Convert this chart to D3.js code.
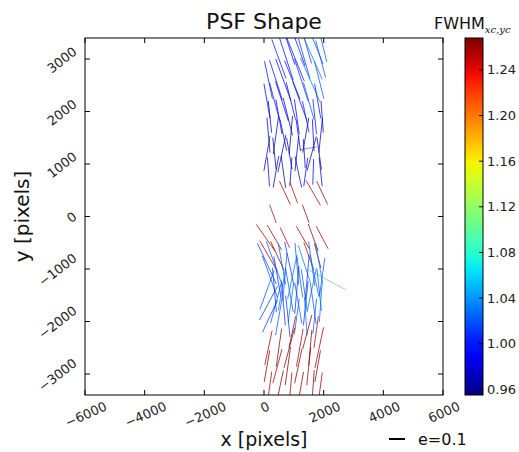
<!DOCTYPE html>
<html><head><meta charset="utf-8">
<script src="https://cdn.jsdelivr.net/npm/d3@7"></script>
<style>body{margin:0;background:#fff;} svg{display:block;font-family:"DejaVu Sans",sans-serif;}</style>
</head><body><svg id="c" width="519" height="452"></svg>
<script>
// Whisker data: position (pixels), ellipticity e, angle from vertical (deg, + = top to the right), FWHM
const whiskX = [
  800,1100,1400,1700,1950,
  500,750,1050,1350,1650,1900,
  150,400,650,950,1250,1550,1850,
  100,350,600,900,1200,1500,1800,
  200,500,800,1100,1400,1700,1950,
  150,400,650,900,1150,1400,1650,1900,
  100,350,600,850,1100,1350,1600,1850,1500,
  150,400,650,900,1150,1400,1650,1900,
  700,1000,1650,1950,
  300,1400,
  50,350,700,1300,1650,1950,
  150,450,1500,1800,
  100,350,600,850,1100,1350,1600,1850,
  200,450,700,950,1200,1450,1700,1950,
  100,350,600,850,1100,1350,1600,1850,
  150,400,650,900,1150,1400,1650,1900,
  200,500,800,1100,1400,1700,
  2100,
  950,1450,1750,
  150,500,850,1200,1550,1850,
  100,450,800,1150,1500,1800,
  200,550,900,1250,1650,1900
];
const whiskY = [
  3300,3300,3300,3300,3300,
  3000,3000,3000,3000,3000,3000,
  2600,2600,2600,2600,2600,2600,2600,
  2200,2200,2200,2200,2200,2200,2200,
  1900,1900,1900,1900,1900,1900,1900,
  1550,1550,1550,1550,1550,1550,1550,1550,
  1200,1200,1200,1200,1200,1200,1200,1200,1300,
  850,850,850,850,850,850,850,850,
  450,450,450,450,
  50,50,
  -400,-400,-400,-400,-400,-400,
  -750,-750,-750,-750,
  -900,-900,-900,-900,-900,-900,-900,-900,
  -1150,-1150,-1150,-1150,-1150,-1150,-1150,-1150,
  -1400,-1400,-1400,-1400,-1400,-1400,-1400,-1400,
  -1650,-1650,-1650,-1650,-1650,-1650,-1650,-1650,
  -1900,-1900,-1900,-1900,-1900,-1900,
  -1200,
  -2200,-2200,-2200,
  -2500,-2500,-2500,-2500,-2500,-2500,
  -2850,-2850,-2850,-2850,-2850,-2850,
  -3200,-3200,-3200,-3200,-3200,-3200
];
const whiskE = [
  0.28,0.30,0.26,0.28,0.24,
  0.26,0.28,0.30,0.26,0.28,0.24,
  0.24,0.26,0.28,0.26,0.28,0.30,0.24,
  0.22,0.24,0.26,0.24,0.26,0.24,0.22,
  0.20,0.22,0.24,0.22,0.20,0.22,0.20,
  0.22,0.24,0.20,0.24,0.20,0.22,0.20,0.22,
  0.22,0.20,0.24,0.20,0.22,0.18,0.22,0.20,0.10,
  0.18,0.20,0.20,0.18,0.20,0.18,0.16,0.18,
  0.16,0.14,0.18,0.16,
  0.12,0.12,
  0.20,0.18,0.14,0.16,0.18,0.16,
  0.22,0.20,0.18,0.16,
  0.28,0.30,0.26,0.28,0.26,0.24,0.28,0.26,
  0.28,0.26,0.30,0.28,0.26,0.28,0.26,0.24,
  0.26,0.28,0.26,0.28,0.30,0.26,0.28,0.26,
  0.24,0.26,0.28,0.24,0.26,0.28,0.26,0.24,
  0.22,0.24,0.26,0.22,0.24,0.22,
  0.27,
  0.20,0.22,0.20,
  0.22,0.24,0.26,0.24,0.22,0.26,
  0.20,0.22,0.24,0.22,0.24,0.20,
  0.16,0.18,0.15,0.16,0.18,0.15
];
const whiskAngle = [
  -18,-20,-16,-22,-14,
  -20,-18,-22,-16,-24,-15,
  -12,-18,-20,-22,-18,-24,-14,
  -10,-15,-18,-14,-20,-16,-10,
  -6,-10,-14,-8,-12,-6,-4,
  -5,8,-12,5,-8,10,-3,6,
  10,-6,12,-10,6,-4,15,-8,80,
  -4,10,-8,4,-12,8,2,-6,
  -25,-20,-30,-25,
  -20,-20,
  -35,-30,-25,-30,-20,-28,
  -30,-25,-20,-15,
  -25,-20,-10,-12,-5,-18,-8,-10,
  -20,-10,5,12,-8,5,-12,8,
  20,-5,10,-10,5,-8,12,-6,
  28,15,-5,8,-10,6,-8,4,
  25,10,-6,8,-4,6,
  -62,
  12,15,8,
  12,8,15,10,5,12,
  10,15,8,12,6,10,
  8,12,5,10,4,8
];
const whiskFwhm = [
  0.99,1.00,1.01,1.02,1.02,
  1.00,0.99,1.00,1.01,1.03,1.02,
  1.00,1.00,0.99,1.00,1.01,1.03,1.02,
  0.99,1.00,0.99,0.98,1.00,1.02,1.00,
  0.98,0.99,0.98,0.99,1.00,1.00,0.99,
  0.97,0.98,0.97,0.96,0.98,0.97,0.98,0.97,
  0.97,0.96,0.98,0.97,0.97,0.98,0.97,0.96,0.98,
  0.98,0.97,0.96,0.97,0.98,0.97,0.99,0.97,
  1.26,1.25,1.26,1.26,
  1.25,1.26,
  1.26,1.26,1.25,1.26,1.27,1.26,
  1.26,1.27,1.25,1.26,
  1.01,1.02,1.02,1.01,1.02,1.03,1.02,1.03,
  1.02,1.01,1.02,1.03,1.02,1.01,1.03,1.02,
  1.02,1.01,1.03,1.02,1.01,1.02,1.03,1.02,
  1.01,1.02,1.01,1.03,1.02,1.01,1.02,1.03,
  1.01,1.02,1.01,1.02,1.03,1.02,
  1.04,
  1.26,1.27,1.26,
  1.26,1.27,1.27,1.26,1.27,1.26,
  1.27,1.26,1.27,1.27,1.26,1.27,
  1.26,1.27,1.26,1.27,1.27,1.26
];
const xTicks = [-6000,-4000,-2000,0,2000,4000,6000];
const yTicks = [-3000,-2000,-1000,0,1000,2000,3000];
const cbTicks = [0.96,1.00,1.04,1.08,1.12,1.16,1.20,1.24];
const legendE = 0.1;

// layout
const L = 85, R = 443, T = 38, B = 395;
const cbL = 465, cbR = 483;
const pxPerE = 160;

const svg = d3.select("#c");
const x = d3.scaleLinear().domain([-6000,6000]).range([L,R]);
const y = d3.scaleLinear().domain([-3400,3400]).range([B,T]);
const cScale = d3.scaleLinear().domain([0.955,1.268]).range([B,T]);

// jet colormap
function jet(t){
  t = Math.max(0,Math.min(1,t));
  function seg(pts){
    for(let i=1;i<pts.length;i++){
      if(t<=pts[i][0]){const a=pts[i-1],b=pts[i];return a[1]+(b[1]-a[1])*(t-a[0])/(b[0]-a[0]);}
    }
    return pts[pts.length-1][1];
  }
  const r=seg([[0,0],[0.35,0],[0.66,1],[0.89,1],[1,0.5]]);
  const g=seg([[0,0],[0.125,0],[0.375,1],[0.64,1],[0.91,0],[1,0]]);
  const b=seg([[0,0.5],[0.11,1],[0.34,1],[0.65,0],[1,0]]);
  return d3.rgb(r*255,g*255,b*255).toString();
}
const cNorm = d3.scaleLinear().domain([0.955,1.268]).range([0,1]).clamp(true);
const color = v => jet(cNorm(v));

// clip
svg.append("defs").append("clipPath").attr("id","clip")
  .append("rect").attr("x",L).attr("y",T).attr("width",R-L).attr("height",B-T);

// whiskers
const data = whiskX.map((d,i)=>({x:d,y:whiskY[i],e:whiskE[i],a:whiskAngle[i],f:whiskFwhm[i]}));
svg.append("g").attr("clip-path","url(#clip)")
  .selectAll("line").data(data).enter().append("line")
  .each(function(d){
    const cx=x(d.x), cy=y(d.y), h=d.e*pxPerE/2, th=d.a*Math.PI/180;
    const dx=Math.sin(th)*h, dy=-Math.cos(th)*h;
    d3.select(this).attr("x1",cx-dx).attr("y1",cy-dy).attr("x2",cx+dx).attr("y2",cy+dy);
  })
  .attr("stroke",d=>color(d.f)).attr("stroke-width",1)
  .attr("stroke-opacity",d=>Math.abs(d.a)>45?0.45:0.75);

// frame
svg.append("rect").attr("x",L).attr("y",T).attr("width",R-L).attr("height",B-T)
  .attr("fill","none").attr("stroke","#000").attr("stroke-width",1);

// ticks (inward, all sides)
const tg = svg.append("g").attr("stroke","#000").attr("stroke-width",1);
xTicks.forEach(v=>{
  tg.append("line").attr("x1",x(v)).attr("x2",x(v)).attr("y1",B).attr("y2",B-5);
  tg.append("line").attr("x1",x(v)).attr("x2",x(v)).attr("y1",T).attr("y2",T+5);
});
yTicks.forEach(v=>{
  tg.append("line").attr("x1",L).attr("x2",L+5).attr("y1",y(v)).attr("y2",y(v));
  tg.append("line").attr("x1",R).attr("x2",R-5).attr("y1",y(v)).attr("y2",y(v));
});

const fmt = v => (v<0?"\u2212":"")+Math.abs(v);
function rotLabel(txt, fs, ang, place){
  const t = svg.append("text").text(txt).attr("font-size",fs).attr("fill","#222")
    .attr("text-anchor","middle").attr("dominant-baseline","central");
  const w = t.node().getComputedTextLength(), h = fs*0.75;
  const a = Math.abs(ang)*Math.PI/180;
  const bw = w*Math.cos(a)+h*Math.sin(a), bh = w*Math.sin(a)+h*Math.cos(a);
  const [cx,cy] = place(bw,bh);
  t.attr("transform",`translate(${cx},${cy}) rotate(${ang})`);
}
xTicks.forEach(v=>rotLabel(fmt(v),13,-24,(bw,bh)=>[x(v)+1, B+6+bh/2]));
yTicks.forEach(v=>rotLabel(fmt(v),13,-38,(bw,bh)=>[L-7-bw/2, y(v)+1]));

// titles
svg.append("text").attr("x",(L+R)/2).attr("y",29).attr("text-anchor","middle")
  .attr("font-size",22).attr("fill","#111").text("PSF Shape");
svg.append("text").attr("x",(L+R)/2).attr("y",446).attr("text-anchor","middle")
  .attr("font-size",19).attr("fill","#111").text("x [pixels]");
svg.append("text").attr("transform",`translate(29,${(T+B)/2}) rotate(-90)`).attr("text-anchor","middle")
  .attr("font-size",20).attr("fill","#111").text("y [pixels]");

// colorbar
const grad = svg.select("defs").append("linearGradient").attr("id","cb")
  .attr("x1",0).attr("y1",1).attr("x2",0).attr("y2",0);
d3.range(0,1.0001,0.05).forEach(t=>grad.append("stop").attr("offset",t).attr("stop-color",jet(t)));
svg.append("rect").attr("x",cbL).attr("y",T).attr("width",cbR-cbL).attr("height",B-T)
  .attr("fill","url(#cb)").attr("stroke","#000").attr("stroke-width",1);
cbTicks.forEach(v=>{
  svg.append("line").attr("x1",cbR-4).attr("x2",cbR).attr("y1",cScale(v)).attr("y2",cScale(v))
    .attr("stroke","#000");
  svg.append("text").attr("x",cbR+4).attr("y",cScale(v)).attr("dominant-baseline","central")
    .attr("font-size",13).attr("fill","#222").text(v.toFixed(2));
});
const cbt = svg.append("text").attr("x",434).attr("y",29).attr("font-size",16).attr("fill","#111");
cbt.append("tspan").text("FWHM");
cbt.append("tspan").attr("font-family","DejaVu Serif").attr("font-style","italic")
  .attr("font-size",10).attr("dy",4).text("xc,yc");

// legend
svg.append("line").attr("x1",389).attr("x2",389+legendE*pxPerE).attr("y1",439).attr("y2",439)
  .attr("stroke","#000").attr("stroke-width",2);
svg.append("text").attr("x",418).attr("y",445).attr("font-size",16).attr("fill","#111").text("e=0.1");
</script></body></html>
